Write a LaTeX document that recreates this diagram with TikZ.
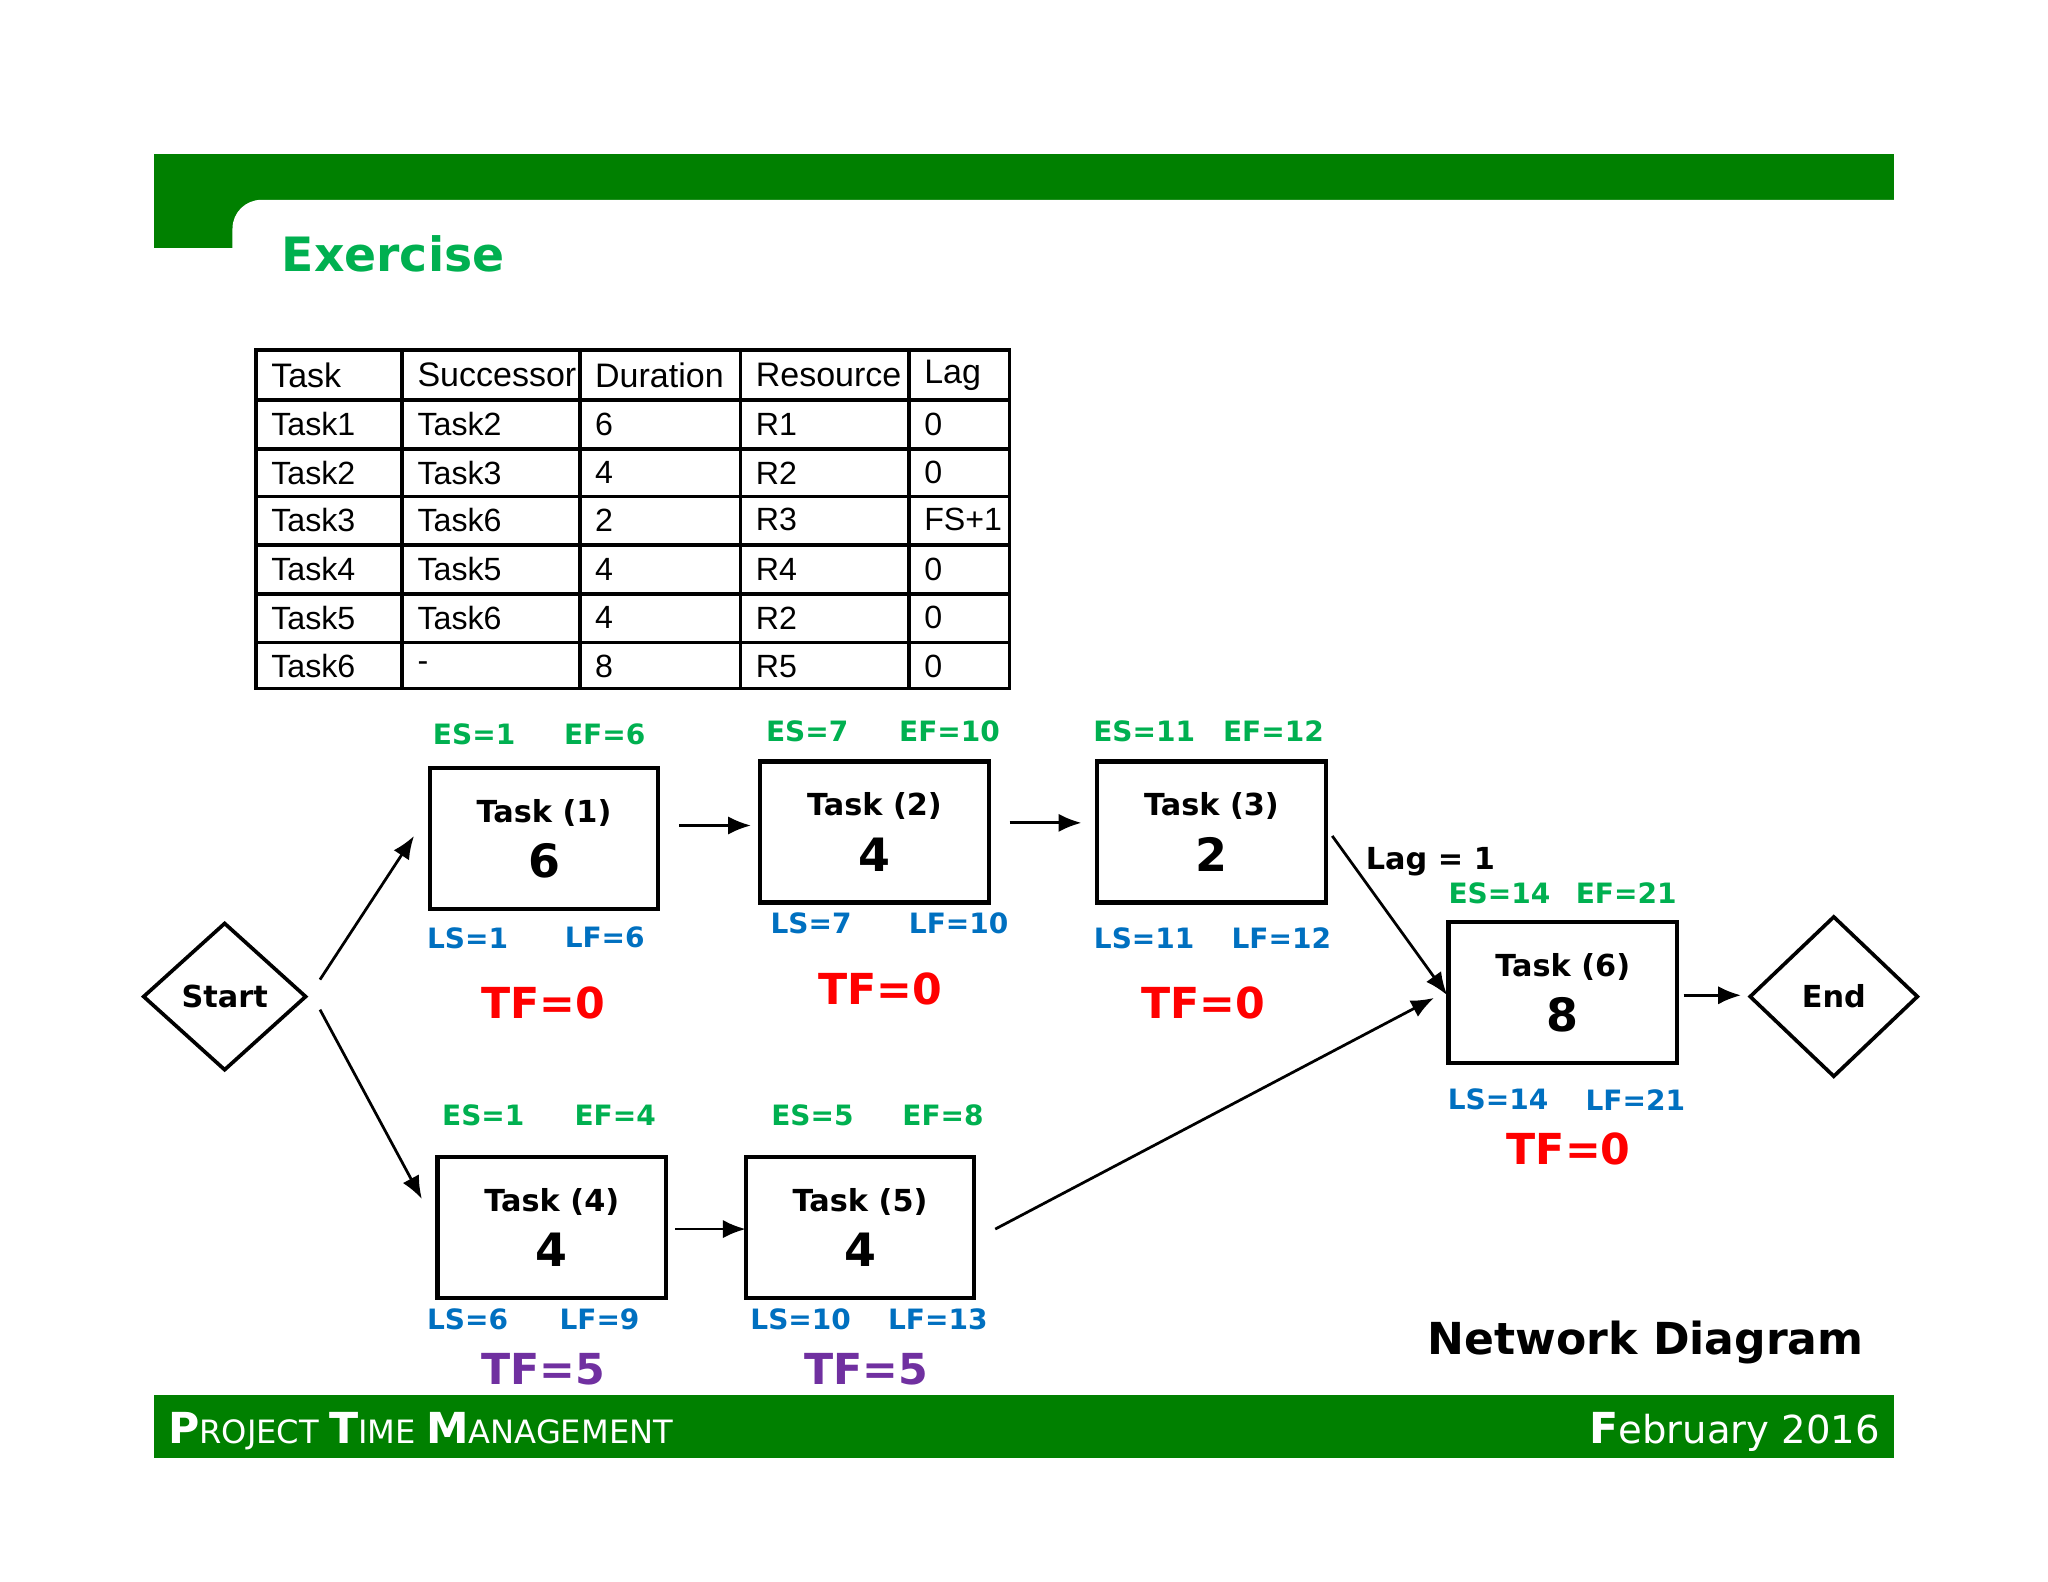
\documentclass[tikz,border=0pt]{standalone}
\usepackage{fontspec}
\setmainfont{DejaVu Sans}
\newfontfamily\tabfont{Liberation Sans}
\usetikzlibrary{arrows.meta}
\definecolor{barg}{RGB}{0,128,0}
\definecolor{lg}{RGB}{0,176,80}
\definecolor{bl}{RGB}{0,112,192}
\definecolor{pu}{RGB}{112,48,160}
\newlength\pxu \setlength\pxu{0.01cm}
\tikzset{
 taskbox/.style={draw,line width=0.9pt,minimum width=175\pxu,minimum height=108\pxu,align=center,inner sep=0},
 conn/.style={-{Latex[length=5pt,width=4pt]},line width=0.6pt},
 es/.style={text=lg,font=\fontsize{6.1}{8}\selectfont\bfseries,inner sep=0},
 ls/.style={text=bl,font=\fontsize{6.1}{8}\selectfont\bfseries,inner sep=0},
 tf/.style={font=\fontsize{9.3}{12}\selectfont\bfseries,inner sep=0},
 cell/.style={font=\tabfont\fontsize{7}{9}\selectfont,anchor=west,inner sep=0},
 hcell/.style={font=\tabfont\fontsize{7.4}{9}\selectfont,anchor=west,inner sep=0},
}
\newcommand\tk[2]{{\fontsize{6.6}{9}\selectfont\bfseries #1}\\[0pt]{\fontsize{10}{13}\selectfont\bfseries #2}}
\begin{document}
\begin{tikzpicture}[x=0.01cm,y=-0.01cm]
\useasboundingbox (0,0) rectangle (1568,1211);
\fill[white] (0,0) rectangle (1568,1211);
% header
\fill[barg] (118,118) rectangle (1450,153);
\fill[barg] (118,153) rectangle (200,190);
\fill[white] (178,191) -- (178,175) arc[start angle=180,end angle=270,radius=22] -- (1451,153) -- (1451,191) -- cycle;
\node[anchor=base west,text=lg,font=\fontsize{10.3}{14}\selectfont\bfseries,inner sep=0] (ex) at (215,208) {Exercise};
% table
\draw[line width=0.8pt] (196,268) rectangle (773,527);
\foreach \x in {308,444,567,696} \draw[line width=0.8pt] (\x,268) -- (\x,527);
\foreach \y in {306,344,380,417,455,492} \draw[line width=0.8pt] (196,\y) -- (773,\y);
\node[hcell] at (207,287) {Task};
\node[hcell] at (319,287) {Successor};
\node[hcell] at (455,287) {Duration};
\node[hcell] at (578,287) {Resource};
\node[hcell] at (707,287) {Lag};
\foreach \y/\a/\b/\c/\d/\e in {325/Task1/Task2/6/R1/0,362/Task2/Task3/4/R2/0,398/Task3/Task6/2/R3/FS+1,436/Task4/Task5/4/R4/0,473/Task5/Task6/4/R2/0,510/Task6/-/8/R5/0}{
 \node[cell] at (207,\y) {\a};
 \node[cell] at (319,\y) {\b};
 \node[cell] at (455,\y) {\c};
 \node[cell] at (578,\y) {\d};
 \node[cell] at (707,\y) {\e};
}
% diamonds
\draw[line width=0.8pt] (110,763) -- (172,707) -- (234,763) -- (172,819) -- cycle;
\node[font=\fontsize{6.6}{9}\selectfont\bfseries] (start) at (172,763) {Start};
\draw[line width=0.8pt] (1340,763) -- (1404,702) -- (1468,763) -- (1404,824) -- cycle;
\node[font=\fontsize{6.6}{9}\selectfont\bfseries] (end) at (1404,763) {End};
\node[taskbox] (t1) at (416.5,642) {\tk{Task (1)}{6}};
\node[taskbox] (t2) at (669.5,637) {\tk{Task (2)}{4}};
\node[taskbox] (t3) at (927.5,637) {\tk{Task (3)}{2}};
\node[taskbox] (t6) at (1196.5,760) {\tk{Task (6)}{8}};
\node[taskbox] (t4) at (422.5,940) {\tk{Task (4)}{4}};
\node[taskbox] (t5) at (658.5,940) {\tk{Task (5)}{4}};
% connectors
\draw[conn] (245,750) -- (317,640);
\draw[conn] (245,773) -- (323,918);
\draw[conn] (520,632) -- (575,632);
\draw[conn] (773,630) -- (828,630);
\draw[conn] (1020,640) -- (1108,762);
\draw[conn] (517,941) -- (571,941);
\draw[conn] (762,941) -- (1098,764);
\draw[conn] (1289,762) -- (1333,762);
\node[font=\fontsize{6.6}{9}\selectfont\bfseries,anchor=west,inner sep=0] at (1045,660) {Lag = 1};
% labels
\foreach \a/\b/\c/\d/\y in {363/463/ES=1/EF=6/562, 618/727/ES=7/EF=10/560, 876/975/ES=11/EF=12/560, 1148/1245/ES=14/EF=21/684, 370/471/ES=1/EF=4/854, 622/722/ES=5/EF=8/854}
 {\node[es] at (\a,\y) {\c}; \node[es] at (\b,\y) {\d};}
\foreach \a/\b/\c/\d/\y in {358/463/LS=1/LF=6/718, 621/734/LS=7/LF=10/707, 876/981/LS=11/LF=12/718, 1147/1252/LS=14/LF=21/842, 358/459/LS=6/LF=9/1010, 613/718/LS=10/LF=13/1010}
 {\node[ls] at (\a,\y) {\c}; \node[ls] at (\b,\y) {\d};}
\node[tf,text=red] at (416,768) {TF=0};
\node[tf,text=red] at (674,757) {TF=0};
\node[tf,text=red] at (921,768) {TF=0};
\node[tf,text=red] at (1201,880) {TF=0};
\node[tf,text=pu] at (416,1048) {TF=5};
\node[tf,text=pu] at (663,1048) {TF=5};
\node[font=\fontsize{9.6}{13}\selectfont\bfseries,inner sep=0] (nd) at (1260,1028) {Network Diagram};
% footer
\fill[barg] (118,1068) rectangle (1450,1116);
\node[anchor=base west,text=white,inner sep=0] (ft) at (128,1105) {\fontsize{9.3}{11}\selectfont\bfseries P\mdseries\fontsize{7}{9}\selectfont ROJECT \fontsize{9.3}{11}\selectfont\bfseries T\mdseries\fontsize{7}{9}\selectfont IME \fontsize{9.3}{11}\selectfont\bfseries M\mdseries\fontsize{7}{9}\selectfont ANAGEMENT};
\node[anchor=base east,text=white,inner sep=0] (fd) at (1440,1105) {\fontsize{9.3}{11}\selectfont\bfseries F\mdseries\fontsize{8.4}{10}\selectfont ebruary 2016};
\end{tikzpicture}
\end{document}
